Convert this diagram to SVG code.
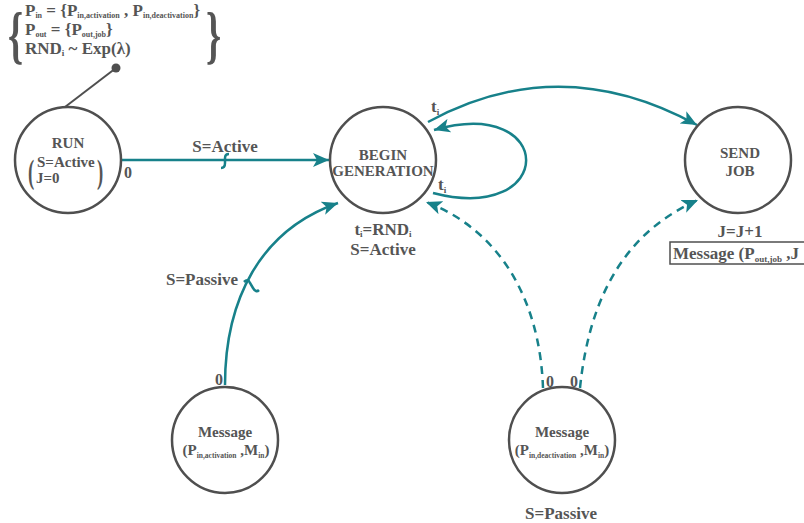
<svg xmlns="http://www.w3.org/2000/svg" width="804" height="523" viewBox="0 0 804 523">
<style>
text{font-family:"Liberation Serif","Times New Roman",serif;font-weight:bold;fill:#555555}
.n{font-size:15px;text-anchor:middle}
.z{font-size:16px;text-anchor:middle}
.l{font-size:17px}
.c{text-anchor:middle}
.s{font-size:9px}
.sa{font-size:8px}
.s2{font-size:7.5px}
.node{fill:#ffffff;stroke:#4f4f4f;stroke-width:2.5}
.e{fill:none;stroke:#17818a;stroke-width:2.5}
.d{stroke-dasharray:8 6}
</style>
<defs>
<marker id="ah" markerUnits="userSpaceOnUse" markerWidth="18" markerHeight="14" refX="16" refY="7" orient="auto">
<path d="M0,0 L16,7 L0,14 L4,7 z" fill="#17818a"/>
</marker>
</defs>
<rect width="804" height="523" fill="#ffffff"/>

<g id="annotation">
<text x="8" y="56" font-size="64" transform="translate(8,0) scale(0.6,1) translate(-8,0)">{</text>
<text x="206" y="56" font-size="64" transform="translate(206,0) scale(0.6,1) translate(-206,0)">}</text>
<text x="25" y="16" class="l">P<tspan class="sa" dy="2">in</tspan><tspan dy="-2"> = {P</tspan><tspan class="sa" dy="2">in,activation</tspan><tspan dy="-2"> , P</tspan><tspan class="sa" dy="2">in,deactivation</tspan><tspan dy="-2">}</tspan></text>
<text x="25" y="35" class="l">P<tspan class="sa" dy="2">out</tspan><tspan dy="-2"> = {P</tspan><tspan class="sa" dy="2">out,job</tspan><tspan dy="-2">}</tspan></text>
<text x="25" y="54" class="l">RND<tspan class="s" dy="2">i</tspan><tspan dy="-2"> ~ Exp(λ)</tspan></text>
<line x1="116" y1="68" x2="65" y2="107" stroke="#4f4f4f" stroke-width="2"/>
<circle cx="116" cy="68" r="4.5" fill="#4f4f4f"/>
</g>

<g id="connectors">
<line class="e" x1="122" y1="160" x2="329" y2="160" marker-end="url(#ah)"/>
<path class="e" d="M221,168 Q225,168 225,163 L225,158 Q225,154 229,154" stroke-width="2"/>
<path class="e" d="M428,122 Q560,50 697,125" marker-end="url(#ah)"/>
<path class="e" d="M433,193 C557,225 557,95 434,130" marker-end="url(#ah)"/>
<path class="e" d="M225,385 C225,300 260,230 338,203" marker-end="url(#ah)"/>
<path class="e" d="M244,282 Q248,278 250,283 L253,288 Q256,293 259,290" stroke-width="2"/>
<path class="e d" d="M543,388 C540,300 500,230 426,202" marker-end="url(#ah)"/>
<path class="e d" d="M580,388 C590,290 630,230 698,200" marker-end="url(#ah)"/>
<text x="225" y="152" class="l c">S=Active</text>
<text x="128" y="178" class="z">0</text>
<text x="431" y="112" class="l">t<tspan class="s" dy="3">i</tspan></text>
<text x="438" y="190" class="l">t<tspan class="s" dy="3">i</tspan></text>
<text x="238" y="285" class="l" text-anchor="end">S=Passive</text>
<text x="219" y="385" class="z">0</text>
<text x="550" y="387" class="z">0</text>
<text x="574" y="387" class="z">0</text>
</g>

<g id="run">
<circle class="node" cx="68" cy="160" r="53"/>
<text x="68" y="148" class="n">RUN</text>
<text x="37" y="167" font-size="15">S=Active</text>
<text x="36" y="183" font-size="15">J=0</text>
<text x="28" y="183" font-size="34" font-weight="normal" transform="translate(28,0) scale(0.55,1) translate(-28,0)">(</text>
<text x="97" y="183" font-size="34" font-weight="normal" transform="translate(97,0) scale(0.55,1) translate(-97,0)">)</text>
</g>

<g id="begin">
<circle class="node" cx="383" cy="160" r="53"/>
<text x="383" y="160" class="n">BEGIN</text>
<text x="383" y="176" class="n">GENERATION</text>
<text x="383" y="235" class="l c">t<tspan class="s" dy="2">i</tspan><tspan dy="-2">=RND</tspan><tspan class="s" dy="2">i</tspan></text>
<text x="383" y="255" class="l c">S=Active</text>
</g>

<g id="send">
<circle class="node" cx="738" cy="160" r="53"/>
<text x="740" y="158" class="n">SEND</text>
<text x="740" y="176" class="n">JOB</text>
<text x="740" y="237" class="l c">J=J+1</text>
<rect x="670" y="242" width="150" height="22" fill="none" stroke="#4f4f4f" stroke-width="1.5"/>
<text x="673" y="259" class="l">Message (P<tspan class="s" dy="3">out,job</tspan><tspan dy="-3"> ,J</tspan></text>
</g>

<g id="msg-activation">
<circle class="node" cx="225" cy="440" r="53"/>
<text x="225" y="437" class="n">Message</text>
<text x="226" y="455" class="n">(P<tspan class="s2" dy="3">in,activation</tspan><tspan dy="-3"> ,M</tspan><tspan class="s2" dy="3">in</tspan><tspan dy="-3">)</tspan></text>
</g>

<g id="msg-deactivation">
<circle class="node" cx="562" cy="440" r="53"/>
<text x="562" y="437" class="n">Message</text>
<text x="562" y="455" class="n">(P<tspan class="s2" dy="3">in,deactivation</tspan><tspan dy="-3"> ,M</tspan><tspan class="s2" dy="3">in</tspan><tspan dy="-3">)</tspan></text>
<text x="561" y="519" class="l c">S=Passive</text>
</g>
</svg>
